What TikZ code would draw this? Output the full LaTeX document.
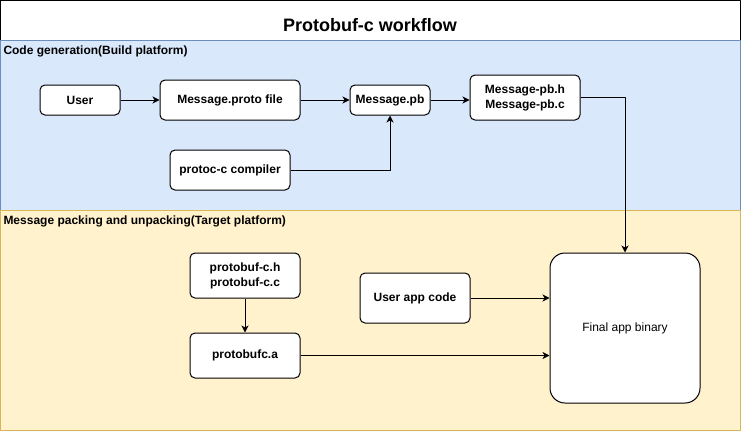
\documentclass[tikz,border=0pt]{standalone}
\usepackage{fontspec}
\setmainfont{Liberation Sans}
\usetikzlibrary{arrows.meta}
\definecolor{buildfill}{HTML}{DAE8FC}
\definecolor{buildline}{HTML}{6C8EBF}
\definecolor{targetfill}{HTML}{FFF2CC}
\definecolor{targetline}{HTML}{D6B656}
\tikzset{
  filebox/.style={draw, fill=white, rounded corners=5pt, align=center,
    font=\fontsize{12}{15}\selectfont\bfseries, inner sep=2pt},
  lanelabel/.style={anchor=west, inner sep=0pt, font=\fontsize{12}{14}\selectfont\bfseries}
}
\begin{document}
\begin{tikzpicture}[x=1pt,y=-1pt,>={Stealth[length=7pt,width=7pt,inset=2pt]},line width=1pt,line join=round]
	\useasboundingbox (0,0) rectangle (741,431);
	% lanes
	\draw[fill=white] (0.5,0.5) rectangle (740,40);
	\draw[buildline, fill=buildfill] (0.5,40) rectangle (740,210);
	\draw[targetline, fill=targetfill] (0.5,210) rectangle (740,430);
	\node[font=\fontsize{18}{22}\selectfont\bfseries] (title) at (370,25.5) {Protobuf-c workflow};
	\node[lanelabel] (build) at (3,51) {Code generation(Build platform)};
	\node[lanelabel] (target) at (3,221) {Message packing and unpacking(Target platform)};
	% build platform
	\node[filebox, minimum width=80, minimum height=30] (user) at (80,100) {User};
	\node[filebox, minimum width=140, minimum height=40] (proto) at (230,100) {Message.proto file};
	\node[filebox, minimum width=80, minimum height=30] (pb) at (390,100) {Message.pb};
	\node[filebox, minimum width=110, minimum height=45] (pbsrc) at (525,97.5) {Message-pb.h\\Message-pb.c};
	\node[filebox, minimum width=120, minimum height=40] (compiler) at (230,170) {protoc-c compiler};
	% target platform
	\node[filebox, minimum width=110, minimum height=45] (libsrc) at (245,275.5) {protobuf-c.h\\protobuf-c.c};
	\node[filebox, minimum width=110, minimum height=45] (liba) at (245,355.5) {protobufc.a};
	\node[filebox, minimum width=110, minimum height=50] (appcode) at (415,298) {User app code};
	\node[filebox, minimum width=150, minimum height=150, rounded corners=15pt,
		font=\fontsize{12}{15}\selectfont] (final) at (625,328) {Final app binary};
	% connectors
	\draw[->] (user) -- (proto);
	\draw[->] (proto) -- (pb);
	\draw[->] (pb) -- (pb -| pbsrc.west);
	\draw[->] (compiler) -| (pb);
	\draw[->] (pbsrc.east) -| (final.north);
	\draw[->] (libsrc) -- (liba);
	\draw[->] (appcode) -- (appcode -| final.west);
	\draw[->] (liba) -- (liba -| final.west);
\end{tikzpicture}
\end{document}
